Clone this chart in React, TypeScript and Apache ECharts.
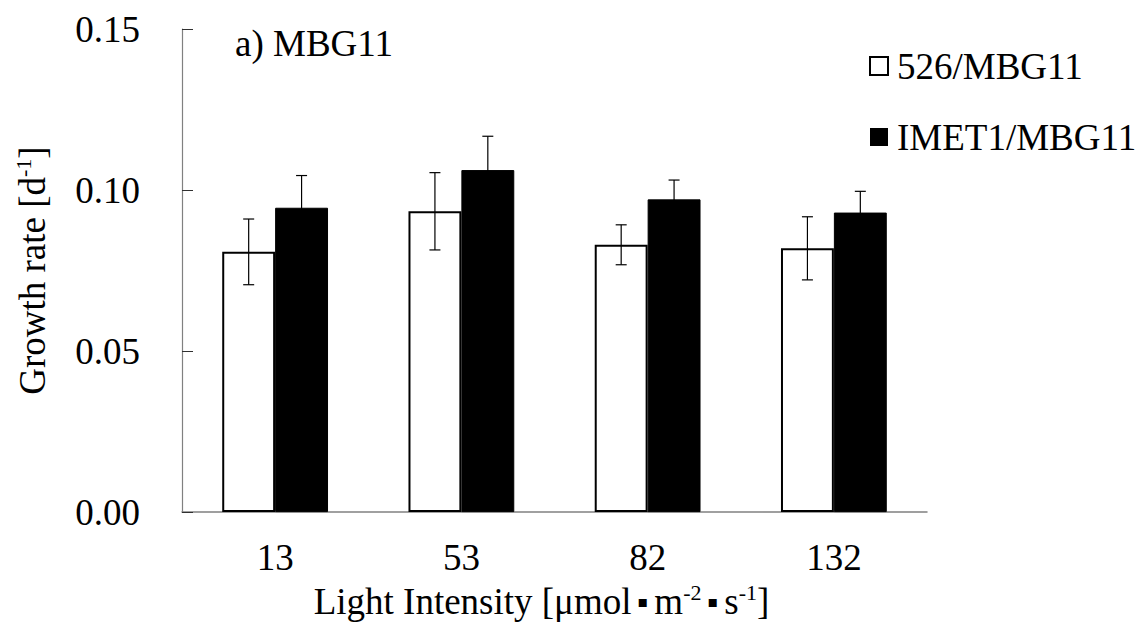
import React, { useEffect, useRef } from "react";
import * as echarts from "echarts";

// Light intensity levels (µmol·m-2·s-1)
const categories = ["13", "53", "82", "132"];

// Growth rate means and standard deviations (d-1)
const strain526 = [0.0808, 0.0934, 0.083, 0.0819];
const strain526Err = [0.0102, 0.012, 0.0062, 0.0098];
const strainIMET1 = [0.0945, 0.1062, 0.0971, 0.093];
const strainIMET1Err = [0.01, 0.0105, 0.006, 0.0066];

const seriesNames = ["526/MBG11", "IMET1/MBG11"];
const yTicks = [0, 0.05, 0.1, 0.15];

const FONT = "Liberation Serif";
const FS = 37;
const BAR_FRACTION = 0.284;

export default function App() {
  const ref = useRef<HTMLDivElement>(null);

  useEffect(() => {
    if (!ref.current) return;
    const chart = echarts.init(ref.current, undefined, { renderer: "svg" });

    const errData: number[][] = [];
    strain526.forEach((v, i) => errData.push([i, v, strain526Err[i], -1]));
    strainIMET1.forEach((v, i) => errData.push([i, v, strainIMET1Err[i], 1]));

    const sup = { fontSize: 22, verticalAlign: "top" as const, lineHeight: 22, fontFamily: FONT, color: "#000" };
    const dot = { fontSize: 16, fontFamily: "DejaVu Sans", color: "#000", padding: [0, 6, 0, 6] };

    chart.setOption({
      animation: false,
      backgroundColor: "#fff",
      textStyle: { fontFamily: FONT, color: "#000" },
      grid: { left: 182, right: 216, top: 29, bottom: 108, containLabel: false },
      legend: {
        orient: "vertical",
        left: 869,
        top: 46,
        padding: 0,
        itemWidth: 18,
        itemHeight: 18,
        itemGap: 31,
        icon: "rect",
        textStyle: { fontFamily: FONT, fontSize: FS, color: "#000", lineHeight: 40, padding: [0, 0, 0, 4] },
        data: [
          { name: seriesNames[0], itemStyle: { color: "#fff", borderColor: "#000", borderWidth: 2 } },
          { name: seriesNames[1], itemStyle: { color: "#000", borderColor: "#000", borderWidth: 0 } },
        ],
      },
      xAxis: {
        type: "category",
        data: categories,
        axisLine: { lineStyle: { color: "#808080", width: 1.5 } },
        axisTick: { inside: true, length: 10, lineStyle: { color: "#404040", width: 1 } },
        axisLabel: { fontFamily: FONT, fontSize: FS, color: "#000", margin: 27 },
        name: "Light Intensity [μmol{dot|▪}m{sup|-2}{dot|▪}s{sup|-1}]",
        nameLocation: "middle",
        nameGap: 62,
        nameTextStyle: {
          fontFamily: FONT,
          fontSize: FS,
          color: "#000",
          lineHeight: 40,
          padding: [0, 26, 0, 0],
          rich: { sup, dot },
        },
      },
      yAxis: {
        type: "value",
        min: 0,
        max: 0.15,
        interval: 0.05,
        axisLine: { show: true, lineStyle: { color: "#808080", width: 1.2 } },
        axisTick: { show: true, inside: true, length: 11, lineStyle: { color: "#303030", width: 1 } },
        splitLine: { show: false },
        axisLabel: {
          fontFamily: FONT,
          fontSize: FS,
          color: "#000",
          margin: 42,
          formatter: (v: number) => (yTicks.some((t) => Math.abs(t - v) < 1e-9) ? v.toFixed(2) : ""),
        },
        name: "Growth rate [d{sup|-1}]",
        nameLocation: "middle",
        nameRotate: 90,
        nameGap: 130,
        nameTextStyle: { fontFamily: FONT, fontSize: FS, color: "#000", lineHeight: 40, rich: { sup } },
      },
      graphic: [
        {
          type: "text",
          left: 235,
          top: 25,
          style: { text: "a) MBG11", fontFamily: FONT, fontSize: FS, fill: "#000" },
        },
      ],
      series: [
        {
          name: seriesNames[0],
          type: "bar",
          data: strain526,
          barWidth: `${BAR_FRACTION * 100}%`,
          barGap: "0%",
          itemStyle: { color: "#fff", borderColor: "#000", borderWidth: 2 },
        },
        {
          name: seriesNames[1],
          type: "bar",
          data: strainIMET1,
          barWidth: `${BAR_FRACTION * 100}%`,
          barGap: "0%",
          itemStyle: { color: "#000", borderColor: "#000", borderWidth: 1 },
        },
        {
          name: "error",
          type: "custom",
          z: 10,
          data: errData,
          renderItem: (params: any, api: any) => {
            const idx = api.value(0);
            const v = api.value(1);
            const e = api.value(2);
            const side = api.value(3);
            const catW = api.size([1, 0])[0];
            const x = api.coord([idx, v])[0] + (side * catW * BAR_FRACTION) / 2;
            const yTop = api.coord([idx, v + e])[1];
            const yBot = api.coord([idx, v - e])[1];
            const cap = 5.5;
            const style = { stroke: "#000", lineWidth: 1.2 };
            return {
              type: "group",
              children: [
                { type: "line", shape: { x1: x, y1: yTop, x2: x, y2: yBot }, style },
                { type: "line", shape: { x1: x - cap, y1: yTop, x2: x + cap, y2: yTop }, style },
                { type: "line", shape: { x1: x - cap, y1: yBot, x2: x + cap, y2: yBot }, style },
              ],
            };
          },
        },
      ],
    });

    return () => chart.dispose();
  }, []);

  return (
    <div
      ref={ref}
      style={{ position: "fixed", left: 0, top: 0, width: 1143, height: 626, background: "#fff" }}
    />
  );
}
